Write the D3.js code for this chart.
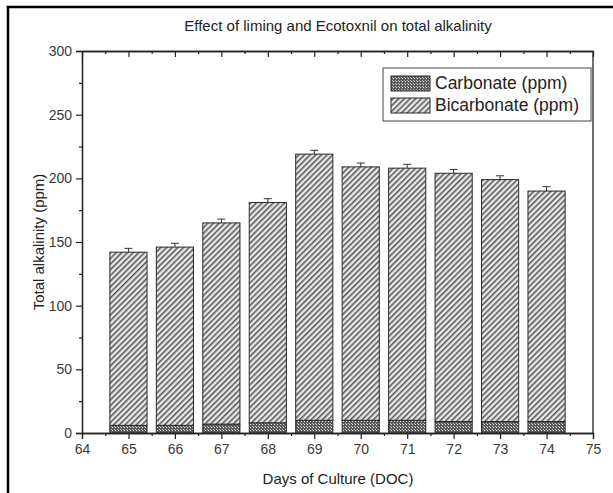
<!DOCTYPE html>
<html>
<head>
<meta charset="utf-8">
<script src="https://cdn.jsdelivr.net/npm/d3@7"></script>
<style>
  body { margin: 0; background: #fff; }
  svg { display: block; font-family: "Liberation Sans", Arial, sans-serif; }
</style>
</head>
<body>
<div id="chart"></div>
<script>
const days = [65, 66, 67, 68, 69, 70, 71, 72, 73, 74]
const carbonate = [6, 6, 7, 8, 10, 10, 10, 9, 9, 9]
const carbonateErr = [0.6, 0.6, 0.6, 0.6, 0.6, 0.6, 0.6, 0.6, 0.6, 0.6]
const bicarbonate = [136, 140, 158, 173, 209, 199, 198, 195, 190, 181]
const bicarbonateErr = [3, 3, 3, 3, 3, 3, 3, 3, 3, 3.5]
const yTicks = [0, 50, 100, 150, 200, 250, 300]
const xTicks = [64, 65, 66, 67, 68, 69, 70, 71, 72, 73, 74, 75]

const W = 613, H = 493
const X0 = 82, X1 = 593, Y0 = 433, Y1 = 51
const BAR_W = 0.8

const svg = d3.select("#chart").append("svg")
  .attr("width", W).attr("height", H)

// patterns
const defs = svg.append("defs")
const chk = defs.append("pattern")
  .attr("id", "carb").attr("patternUnits", "userSpaceOnUse")
  .attr("width", 3).attr("height", 3)
chk.append("rect").attr("width", 3).attr("height", 3).attr("fill", "#5a5a5a")
chk.append("rect").attr("x", 1).attr("y", 1).attr("width", 1).attr("height", 1).attr("fill", "#e6e6e6")
chk.append("rect").attr("x", 0).attr("y", 0).attr("width", 1).attr("height", 1).attr("fill", "#bdbdbd")

const hatch = defs.append("pattern")
  .attr("id", "bicarb").attr("patternUnits", "userSpaceOnUse")
  .attr("width", 4).attr("height", 4)
  .attr("patternTransform", "rotate(45)")
hatch.append("rect").attr("width", 4).attr("height", 4).attr("fill", "#e6e6e6")
hatch.append("rect").attr("width", 1.5).attr("height", 4).attr("fill", "#555")

// outer frame (left + top only, cropped figure)
svg.append("line").attr("x1", 8).attr("x2", 8).attr("y1", 6).attr("y2", H)
  .attr("stroke", "#000").attr("stroke-width", 2.5)
svg.append("line").attr("x1", 6.8).attr("x2", W).attr("y1", 7).attr("y2", 7)
  .attr("stroke", "#000").attr("stroke-width", 2.5)

const x = d3.scaleLinear().domain([64, 75]).range([X0, X1])
const y = d3.scaleLinear().domain([0, 300]).range([Y0, Y1])

const data = days.map((d, i) => ({
  day: d,
  c: carbonate[i], cErr: carbonateErr[i],
  b: bicarbonate[i], bErr: bicarbonateErr[i]
}))

const bw = x(64 + BAR_W) - x(64)

// error bars (behind bar tops)
const errG = svg.append("g").attr("stroke", "#333").attr("stroke-width", 1)
data.forEach(d => {
  const cx = x(d.day)
  const top = d.c + d.b
  errG.append("line").attr("x1", cx).attr("x2", cx)
    .attr("y1", y(top)).attr("y2", y(top + d.bErr))
  errG.append("line").attr("x1", cx - 4).attr("x2", cx + 4)
    .attr("y1", y(top + d.bErr)).attr("y2", y(top + d.bErr))
})

// bars
const bars = svg.append("g")
bars.selectAll(".carb").data(data).join("rect")
  .attr("x", d => x(d.day) - bw / 2)
  .attr("width", bw)
  .attr("y", d => y(d.c))
  .attr("height", d => y(0) - y(d.c))
  .attr("fill", "url(#carb)")
  .attr("stroke", "#2a2a2a").attr("stroke-width", 1)
bars.selectAll(".bic").data(data).join("rect")
  .attr("x", d => x(d.day) - bw / 2)
  .attr("width", bw)
  .attr("y", d => y(d.c + d.b))
  .attr("height", d => y(d.c) - y(d.c + d.b))
  .attr("fill", "url(#bicarb)")
  .attr("stroke", "#2a2a2a").attr("stroke-width", 1)
// small carbonate caps
data.forEach(d => {
  const cx = x(d.day)
  errG.append("line").attr("x1", cx - 3).attr("x2", cx + 3)
    .attr("y1", y(d.c + d.cErr)).attr("y2", y(d.c + d.cErr))
})

// axes
const xMinor = d3.range(64.5, 75, 1)
const yMinor = d3.range(25, 300, 50)

function styleAxis(g) {
  g.selectAll("path").attr("stroke", "#222").attr("stroke-width", 1.3)
  g.selectAll("line").attr("stroke", "#222").attr("stroke-width", 1.2)
  g.selectAll("text").attr("fill", "#3a3a3a").style("font-size", "14px")
}

svg.append("g").attr("transform", `translate(0,${Y0})`)
  .call(d3.axisBottom(x).tickValues(xTicks).tickFormat(d3.format("d")).tickSize(6).tickPadding(5))
  .call(styleAxis)
svg.append("g").attr("transform", `translate(0,${Y0})`)
  .call(d3.axisBottom(x).tickValues(xMinor).tickFormat("").tickSize(3).tickSizeOuter(0))
  .call(styleAxis)

svg.append("g").attr("transform", `translate(${X0},0)`)
  .call(d3.axisLeft(y).tickValues(yTicks).tickSize(6).tickPadding(4))
  .call(styleAxis)
svg.append("g").attr("transform", `translate(${X0},0)`)
  .call(d3.axisLeft(y).tickValues(yMinor).tickFormat("").tickSize(3).tickSizeOuter(0))
  .call(styleAxis)

// top axis, ticks pointing in
svg.append("g").attr("transform", `translate(0,${Y1})`)
  .call(d3.axisTop(x).tickValues(xTicks).tickFormat("").tickSize(-6).tickSizeOuter(0))
  .call(styleAxis)
svg.append("g").attr("transform", `translate(0,${Y1})`)
  .call(d3.axisTop(x).tickValues(xMinor).tickFormat("").tickSize(-3).tickSizeOuter(0))
  .call(styleAxis)

// right axis line
svg.append("line").attr("x1", X1).attr("x2", X1).attr("y1", Y1).attr("y2", Y0)
  .attr("stroke", "#222").attr("stroke-width", 1.3)

// titles
svg.append("text").attr("x", 338).attr("y", 31).attr("text-anchor", "middle")
  .style("font-size", "15px").attr("fill", "#222")
  .text("Effect of liming and Ecotoxnil on total alkalinity")
svg.append("text").attr("x", 338).attr("y", 484).attr("text-anchor", "middle")
  .style("font-size", "15px").attr("fill", "#222")
  .text("Days of Culture (DOC)")
svg.append("text")
  .attr("transform", `translate(44,${(Y0 + Y1) / 2}) rotate(-90)`)
  .attr("text-anchor", "middle")
  .style("font-size", "15px").attr("fill", "#222")
  .text("Total alkalinity (ppm)")

// legend
const lg = svg.append("g").attr("transform", "translate(383,68)")
lg.append("rect").attr("width", 208).attr("height", 53)
  .attr("fill", "#fff").attr("stroke", "#444").attr("stroke-width", 1)
const items = [
  { label: "Carbonate (ppm)", fill: "url(#carb)" },
  { label: "Bicarbonate (ppm)", fill: "url(#bicarb)" }
]
items.forEach((it, i) => {
  lg.append("rect").attr("x", 8).attr("y", 8 + i * 22).attr("width", 39).attr("height", 15)
    .attr("fill", it.fill).attr("stroke", "#2a2a2a")
  lg.append("text").attr("x", 52).attr("y", 21 + i * 22)
    .style("font-size", "17.5px").attr("fill", "#222").text(it.label)
})
</script>
</body>
</html>
